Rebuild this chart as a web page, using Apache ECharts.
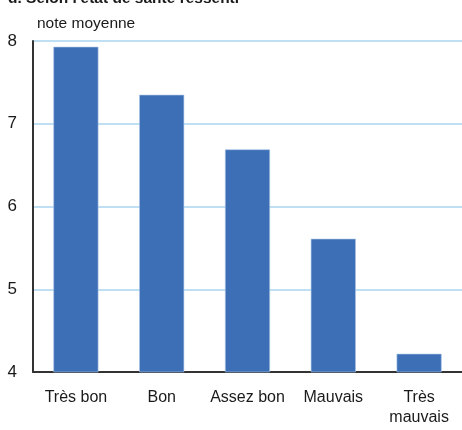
<!DOCTYPE html>
<html><head><meta charset="utf-8">
<script src="https://cdn.jsdelivr.net/npm/echarts@6/dist/echarts.min.js"></script>
<style>html,body{margin:0;padding:0;background:#fff}#c{width:462px;height:430px}</style>
</head><body><div id="c"></div>
<script>
const categories = ['Très bon', 'Bon', 'Assez bon', 'Mauvais', 'Très\nmauvais'];
const values = [7.93, 7.35, 6.69, 5.61, 4.22];
const yTicks = [4, 5, 6, 7, 8];
const titleText = "d. Selon l'état de santé ressenti";
const unitText = 'note moyenne';
const FONT = '"Liberation Sans", Arial, sans-serif';
const chart = echarts.init(document.getElementById('c'));
chart.setOption({
  animation: false,
  textStyle: {fontFamily: FONT},
  title: [
    {text: titleText, left: 3, top: -14, textStyle: {fontFamily: FONT, fontSize: 15.5, fontWeight: 'bold', color: '#1a1a1a'}},
    {text: unitText, left: 32, top: 11, textStyle: {fontFamily: FONT, fontSize: 15.5, fontWeight: 'normal', color: '#1a1a1a'}}
  ],
  grid: {left: 33, right: 0, top: 41, bottom: 58, containLabel: false, outerBoundsMode: 'none'},
  xAxis: {
    type: 'category', data: categories,
    axisLine: {lineStyle: {color: '#333', width: 2}},
    axisTick: {show: false},
    axisLabel: {interval: 0, fontFamily: FONT, fontSize: 16, color: '#1a1a1a', margin: 16, lineHeight: 20}
  },
  yAxis: {
    type: 'value', min: 4, max: 8, interval: 1,
    axisLine: {show: true, lineStyle: {color: '#333', width: 2}},
    axisTick: {show: false},
    axisLabel: {fontFamily: FONT, fontSize: 17, color: '#1a1a1a', margin: 16,
      formatter: v => yTicks.includes(v) ? String(v) : ''},
    splitLine: {lineStyle: {color: '#a9d5f0', width: 1.5}}
  },
  series: [{
    type: 'bar', data: values, barWidth: 45,
    itemStyle: {color: '#3c6fb6', borderColor: '#a8c4e6', borderWidth: 0.6}
  }]
});
</script></body></html>
